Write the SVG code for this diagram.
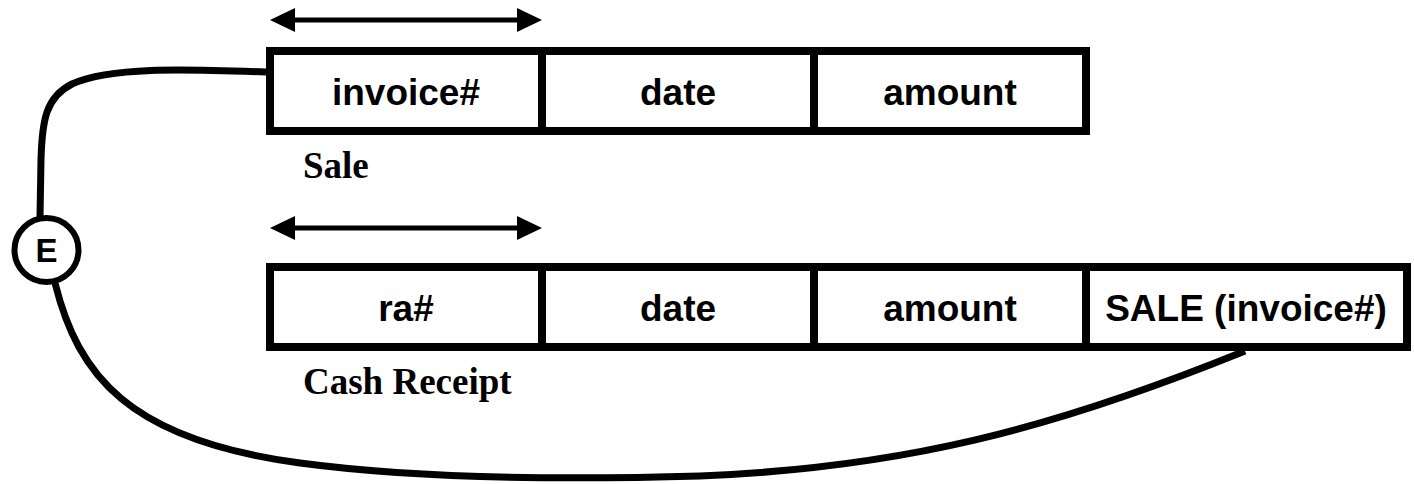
<svg xmlns="http://www.w3.org/2000/svg" width="1414" height="484" viewBox="0 0 1414 484">
<style>
.box{fill:#fff;stroke:#000;stroke-width:8}
.div{stroke:#000;stroke-width:8}
.cell{font-family:"Liberation Sans",Arial,sans-serif;font-weight:bold;font-size:37px;text-anchor:middle;fill:#000}
.lbl{font-family:"Liberation Serif","Times New Roman",serif;font-weight:bold;font-size:37px;fill:#000}
.conn{fill:none;stroke:#000;stroke-width:7}
.arr{stroke:#000;stroke-width:5}
</style>
<rect width="1414" height="484" fill="#fff"/>
<g id="connectors">
<path class="conn" d="M266 72 C180 69 110 67 72 84 C46 97 42 120 41 160 L40 217"/>
<path class="conn" d="M55 283 C78 375 128 440 300 463 C420 479 560 480 700 476 C900 468 1050 430 1245 351"/>
<g id="key-arrow-sale">
<line class="arr" x1="288" y1="20" x2="524" y2="20"/>
<polygon points="270,20 295,8 295,32"/>
<polygon points="542,20 517,8 517,32"/>
</g>
<g id="key-arrow-cash">
<line class="arr" x1="288" y1="228" x2="524" y2="228"/>
<polygon points="270,228 295,216 295,240"/>
<polygon points="542,228 517,216 517,240"/>
</g>
</g>
<g id="sale">
<rect class="box" x="270" y="51" width="816" height="80"/>
<line class="div" x1="542" y1="51" x2="542" y2="131"/>
<line class="div" x1="814" y1="51" x2="814" y2="131"/>
<text class="cell" x="406" y="105">invoice#</text>
<text class="cell" x="678" y="105">date</text>
<text class="cell" x="950" y="105">amount</text>
<text class="lbl" x="303" y="178">Sale</text>
</g>
<g id="cash-receipt">
<rect class="box" x="270" y="267" width="1137" height="80"/>
<line class="div" x1="542" y1="267" x2="542" y2="347"/>
<line class="div" x1="814" y1="267" x2="814" y2="347"/>
<line class="div" x1="1086" y1="267" x2="1086" y2="347"/>
<text class="cell" x="406" y="321">ra#</text>
<text class="cell" x="678" y="321">date</text>
<text class="cell" x="950" y="321">amount</text>
<text class="cell" x="1246" y="321">SALE (invoice#)</text>
<text class="lbl" x="303" y="394">Cash Receipt</text>
</g>
<g id="e-node">
<circle cx="46.5" cy="250" r="32" fill="#fff" stroke="#000" stroke-width="6"/>
<text class="cell" x="46.5" y="262" style="font-size:33px">E</text>
</g>
</svg>
